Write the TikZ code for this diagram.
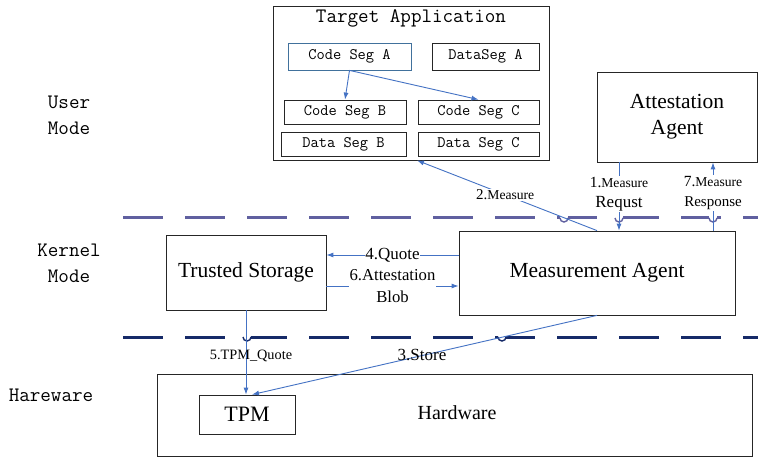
\documentclass[tikz,border=0pt]{standalone}
\usepackage{fontspec}
\setmainfont{Liberation Serif}
\usetikzlibrary{arrows.meta,calc}
\definecolor{conncol}{RGB}{68,114,196}
\definecolor{dashone}{RGB}{96,96,160}
\definecolor{dashtwo}{RGB}{22,42,104}
\definecolor{segblue}{RGB}{65,113,156}
\tikzset{
  box/.style={draw=black!85,line width=0.8pt,inner sep=0pt,align=center},
  segbox/.style={box,font=\fontsize{16}{18}\selectfont\ttfamily},
  bigtxt/.style={font=\fontsize{21.5}{26}\selectfont},
  conn/.style={draw=conncol,line width=0.9pt,-{Latex[length=7pt,width=5pt]}},
  lbl/.style={fill=white,inner sep=1pt,align=center},
  modelbl/.style={align=center,font=\fontsize{20.5}{26}\selectfont\ttfamily},
  sepline/.style={line width=3pt,dash pattern=on 40pt off 22pt},
  hop/.style={line width=1.4pt}
}
\begin{document}
\begin{tikzpicture}[x=1pt,y=-1pt]
\useasboundingbox[fill=white] (0,0) rectangle (758,457);

% separator lines
\draw[sepline,draw=dashone] (123,218) -- (758,218);
\draw[sepline,draw=dashtwo] (123,337) -- (758,337);
% hops on separator lines
\foreach \x in {564,619,713}{
  \fill[white] (\x-4,216.5) rectangle (\x+4,219.5);
  \draw[hop,draw=dashone] (\x-4,218) arc[start angle=180,end angle=0,radius=4];
}
\foreach \x in {247,502}{
  \fill[white] (\x-4,335.5) rectangle (\x+4,338.5);
  \draw[hop,draw=dashtwo] (\x-4,337) arc[start angle=180,end angle=0,radius=4];
}

% mode labels
\node[modelbl] (um) at (69,115) {User\\Mode};
\node[modelbl] (km) at (69,263) {Kernel\\Mode};
\node[modelbl] (hw) at (51,395) {Hareware};

% target application
\node[box,minimum width=276pt,minimum height=154pt] (ta) at (411,83) {};
\node[font=\fontsize{20.5}{22}\selectfont\ttfamily] (tatitle) at (411,18) {Target Application};
\node[segbox,draw=segblue,minimum width=123pt,minimum height=27pt] (csa) at (349.5,56.5) {Code Seg A};
\node[segbox,minimum width=107pt,minimum height=27pt] (dsa) at (485.5,56.5) {DataSeg A};
\node[segbox,minimum width=122pt,minimum height=24pt] (csb) at (345,112) {Code Seg B};
\node[segbox,minimum width=121pt,minimum height=24pt] (csc) at (478.5,112) {Code Seg C};
\node[segbox,minimum width=125pt,minimum height=24pt] (dsb) at (343.5,144) {Data Seg B};
\node[segbox,minimum width=121pt,minimum height=24pt] (dsc) at (478.5,144) {Data Seg C};
\draw[conn] (csa.south) -- (csb.north);
\draw[conn] (csa.south) -- (csc.north);

% agents
\node[box,bigtxt,minimum width=160pt,minimum height=90pt] (aa) at (677,117) {Attestation\\Agent};
\node[box,bigtxt,minimum width=160pt,minimum height=75pt] (ts) at (246,272.5) {Trusted Storage};
\node[box,bigtxt,minimum width=276pt,minimum height=84pt] (ma) at (597,273) {Measurement Agent};

% hardware
\node[box,minimum width=595pt,minimum height=82pt] (hwbox) at (454.5,415) {};
\node[font=\fontsize{20}{22}\selectfont] (hwtxt) at (457,413) {Hardware};
\node[box,font=\fontsize{22}{24}\selectfont,minimum width=96pt,minimum height=39pt] (tpm) at (247,414.5) {TPM};

% coordinates
\coordinate (c1) at (619,0);
\coordinate (c7) at (713,0);
\coordinate (y4) at (0,255);
\coordinate (y6) at (0,286);

% connectors
\draw[conn] (ma.north) -- node[lbl,pos=0.51]{\fontsize{15}{17}\selectfont 2.\fontsize{13.6}{17}\selectfont Measure} ($(ta.south)+(6,0)$);
\draw[conn] (aa.south -| c1) -- node[lbl,pos=0.46,font=\fontsize{17}{20}\selectfont]{\fontsize{15.5}{20}\selectfont 1.\fontsize{13.6}{20}\selectfont Measure\\\fontsize{17}{20}\selectfont Requst} (ma.north -| c1);
\draw[conn] (ma.north -| c7) -- node[lbl,pos=0.55,font=\fontsize{17}{20}\selectfont]{\fontsize{15.5}{20}\selectfont 7.\fontsize{13.6}{20}\selectfont Measure\\\fontsize{15}{20}\selectfont Response} (aa.south -| c7);
\draw[conn] (ma.west |- y4) -- node[lbl,inner sep=0pt,pos=0.5]{\fontsize{17}{19}\selectfont 4.Quote} (ts.east |- y4);
\draw[conn] (ts.east |- y6) -- node[lbl,pos=0.5,font=\fontsize{16.7}{22}\selectfont]{6.Attestation\\Blob} (ma.west |- y6);
\draw[conn] (ts.south) -- (ts.south |- tpm.north);
\node[font=\fontsize{14.3}{16}\selectfont] (l5) at (251,356) {5.TPM\_Quote};
\draw[conn] (ma.south) -- ($(tpm.north)+(5,0)$);
\node[font=\fontsize{17}{19}\selectfont] (l3) at (422,355) {3.Store};
\end{tikzpicture}
\end{document}
